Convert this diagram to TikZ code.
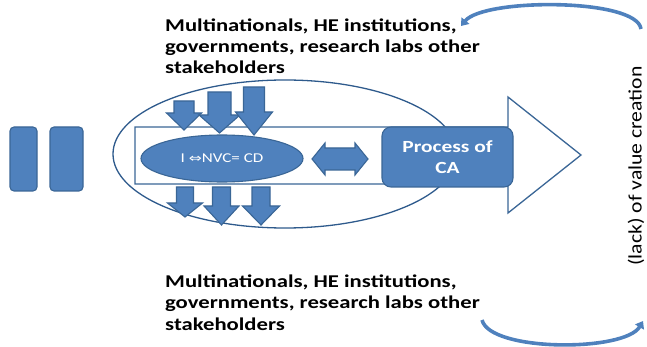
\documentclass[tikz,border=0pt]{standalone}
\usepackage{fontspec}
\setmainfont{Carlito}
\newfontfamily\widefont{Carlito}[FakeStretch=1.26]
\newfontfamily\longfont{Carlito}[FakeStretch=1.14]
\newfontfamily\symfont{DejaVu Sans}[FakeStretch=1.3]
\usetikzlibrary{arrows.meta,shapes.geometric}
\definecolor{officeblue}{HTML}{4F81BD}
\definecolor{officeline}{HTML}{3A6696}
\definecolor{ringline}{HTML}{2E5A8C}
\tikzset{
  bluebox/.style={fill=officeblue, draw=officeline, line width=1.1pt},
  outlineshape/.style={draw=officeline, line width=1.3pt},
  curvearrow/.style={draw=officeblue, line width=3.6pt,
    -{Triangle[width=10pt,length=7pt]}},
  bigtext/.style={font=\widefont\fontsize{18}{21.4}\selectfont\bfseries, align=left,
    anchor=base west, inner sep=0pt},
}
% down arrow: centre x, shaft half width, head half width, top y, head y, tip y
\newcommand\dnarrow[6]{%
  \draw[bluebox] (#1-#2,#4) -- (#1+#2,#4) -- (#1+#2,#5) -- (#1+#3,#5)
    -- (#1,#6) -- (#1-#3,#5) -- (#1-#2,#5) -- cycle;}
\begin{document}
\begin{tikzpicture}[x=1pt,y=-1pt]
\useasboundingbox (0,0) rectangle (647,347);

% stakeholder labels (anchored on the baseline of their last line)
\node[bigtext] (toptext) at (165,74) {Multinationals, HE institutions,\\governments, research labs other\\stakeholders};
\node[bigtext] (bottext) at (165,330) {Multinationals, HE institutions,\\governments, research labs other\\stakeholders};

% two bars on the left
\draw[bluebox, rounded corners=4pt] (10,127) rectangle (37,191);
\draw[bluebox, rounded corners=4pt] (50,127) rectangle (83,191);

% surrounding ring
\draw[draw=ringline, line width=1.3pt] (285,154) ellipse [x radius=172, y radius=74];

% main block arrow
\draw[outlineshape, fill=white] (135,127) -- (508,127) -- (508,97) -- (581,155)
  -- (508,213) -- (508,184) -- (135,184) -- cycle;

% inner ellipse
\node[bluebox, ellipse, minimum width=162pt, minimum height=47pt, inner sep=0pt,
  text=white, font=\widefont\fontsize{13.5}{15}\selectfont] (nvc) at (222,158.5)
  {I {\symfont\fontsize{12}{14}\selectfont⇔}NVC= CD};

% influences from above
\dnarrow{184}{10}{17.5}{101}{113}{130}
\dnarrow{219.5}{11.5}{20.5}{92}{115}{133}
\dnarrow{254}{10.5}{18.5}{87}{112}{135}

% outcomes below
\dnarrow{185}{8.5}{17.5}{187}{203}{217}
\dnarrow{221.5}{9}{17.5}{187}{206}{225}
\dnarrow{261}{9}{18.5}{187}{206}{225}

% two-way arrow
\draw[bluebox] (312,159) -- (325,143) -- (325,148) -- (355,148) -- (355,143)
  -- (368,159) -- (355,175) -- (355,170) -- (325,170) -- (325,175) -- cycle;

% process box
\node[bluebox, rounded corners=9pt, minimum width=131pt, minimum height=60pt,
  text=white, align=center, inner sep=0pt,
  font=\widefont\fontsize{17}{21}\selectfont\bfseries]
  (ca) at (447.5,157) {Process of\\CA};

% vertical caption
\node[rotate=90, font=\longfont\fontsize{19}{22}\selectfont, inner sep=0pt] (lack) at (636,166)
  {(lack) of value creation};

% feedback loops
\coordinate (ta) at (641,29);
\coordinate (tb) at (461,26);
\draw[curvearrow] (ta) .. controls (637,-2) and (484,-2) .. (tb);
\coordinate (ba) at (482,320);
\coordinate (bb) at (643,321);
\draw[curvearrow] (ba) .. controls (490,352) and (625,352) .. (bb);
\end{tikzpicture}
\end{document}
